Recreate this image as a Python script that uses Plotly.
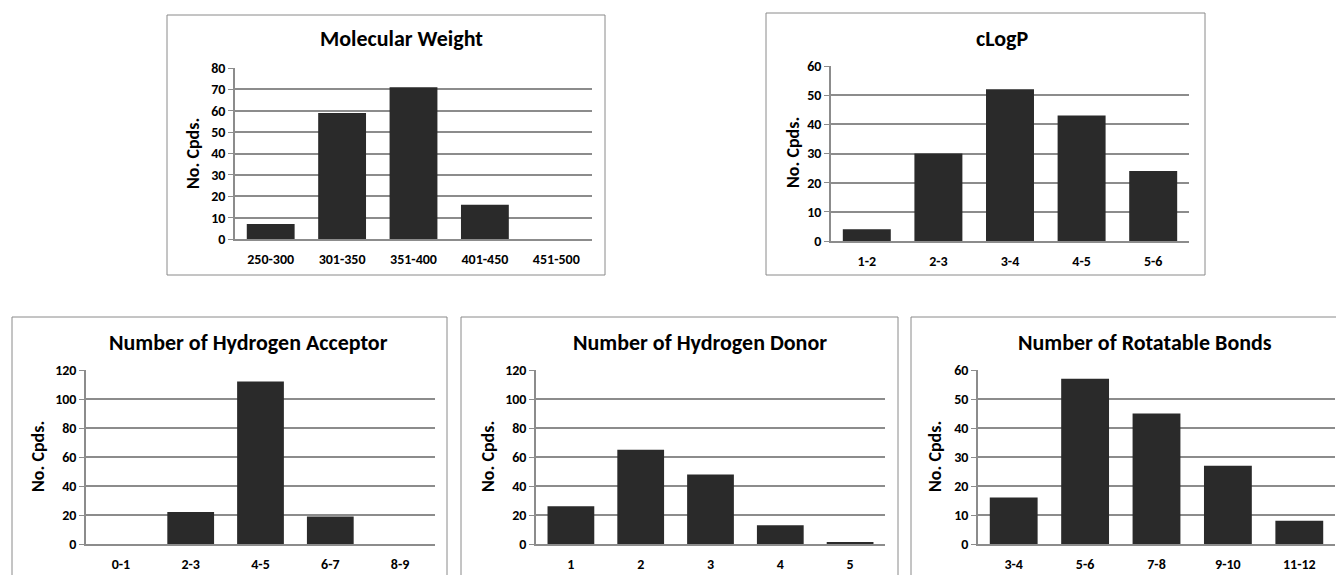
import plotly.graph_objects as go

W, H = 1336, 575

# ---- data ----
mw_cats = ["250-300", "301-350", "351-400", "401-450", "451-500"]
mw_vals = [7, 59, 71, 16, 0]

clogp_cats = ["1-2", "2-3", "3-4", "4-5", "5-6"]
clogp_vals = [4, 30, 52, 43, 24]

hba_cats = ["0-1", "2-3", "4-5", "6-7", "8-9"]
hba_vals = [0, 22, 112, 19, 0]

hbd_cats = ["1", "2", "3", "4", "5"]
hbd_vals = [26, 65, 48, 13, 1]

rot_cats = ["3-4", "5-6", "7-8", "9-10", "11-12"]
rot_vals = [16, 57, 45, 27, 8]

titles = ["Molecular Weight", "cLogP", "Number of Hydrogen Acceptor",
          "Number of Hydrogen Donor", "Number of Rotatable Bonds"]
y_title = "No. Cpds."

# ---- layout geometry (pixels) ----
panels = [
    dict(cats=mw_cats, vals=mw_vals, ymax=80, dtick=10,
         px=(235, 592), py=(239, 68), box=(167, 15, 605, 275),
         title=(401, 39), ytitle=(193, 153)),
    dict(cats=clogp_cats, vals=clogp_vals, ymax=60, dtick=10,
         px=(831, 1189), py=(241, 66), box=(766, 13, 1205, 275),
         title=(1002, 38), ytitle=(793, 153)),
    dict(cats=hba_cats, vals=hba_vals, ymax=120, dtick=20,
         px=(86, 435), py=(544, 370), box=(12, 317, 447, 620),
         title=(248, 342), ytitle=(38, 457)),
    dict(cats=hbd_cats, vals=hbd_vals, ymax=120, dtick=20,
         px=(536, 885), py=(544, 370), box=(461, 317, 898, 620),
         title=(700, 342), ytitle=(488, 457)),
    dict(cats=rot_cats, vals=rot_vals, ymax=60, dtick=10,
         px=(978, 1335), py=(544, 370), box=(911, 317, 1350, 620),
         title=(1145, 342), ytitle=(935, 457)),
]

FONT = "Calibri, Carlito, Lato, 'Open Sans', sans-serif"
GRID = "#8c8c8c"

fig = go.Figure()
shapes, annotations = [], []

def fx(p):
    return p / W

def fy(p):
    return 1 - p / H

for i, (p, t) in enumerate(zip(panels, titles), start=1):
    xa = "x" if i == 1 else f"x{i}"
    ya = "y" if i == 1 else f"y{i}"
    fig.add_trace(go.Bar(
        x=p["cats"], y=p["vals"], xaxis=xa, yaxis=ya,
        marker=dict(color="#2a2a2a", line=dict(width=0)),
        showlegend=False, hoverinfo="x+y",
    ))
    xkey = "xaxis" if i == 1 else f"xaxis{i}"
    ykey = "yaxis" if i == 1 else f"yaxis{i}"
    fig.layout[xkey] = dict(
        type="category",
        domain=[fx(p["px"][0]), fx(p["px"][1])], anchor=ya,
        showline=True, linecolor=GRID, linewidth=2, showgrid=False,
        ticks="", tickangle=0, automargin=False,
        tickfont=dict(family=FONT, size=14, color="black", weight="bold"),
        ticklabelstandoff=6, fixedrange=True,
    )
    fig.layout[ykey] = dict(
        domain=[fy(p["py"][0]), fy(p["py"][1])], anchor=xa,
        range=[0, p["ymax"]], dtick=p["dtick"], tick0=0, automargin=False,
        showline=True, linecolor=GRID, linewidth=1.5,
        showgrid=True, gridcolor=GRID, gridwidth=2, zeroline=False,
        ticks="outside", ticklen=5, tickcolor=GRID, tickwidth=1,
        tickfont=dict(family=FONT, size=14, color="black", weight="bold"),
        fixedrange=True,
    )
    x0, y0, x1, y1 = p["box"]
    shapes.append(dict(type="rect", xref="paper", yref="paper",
                       x0=fx(x0), x1=fx(x1), y0=fy(y1), y1=fy(y0),
                       line=dict(color="#8a8a8a", width=1), fillcolor="rgba(0,0,0,0)",
                       layer="below"))
    annotations.append(dict(text=t, xref="paper", yref="paper",
                            x=fx(p["title"][0]), y=fy(p["title"][1]),
                            xanchor="center", yanchor="middle", showarrow=False,
                            font=dict(family=FONT, size=22, color="black", weight="bold")))
    annotations.append(dict(text=y_title, xref="paper", yref="paper",
                            x=fx(p["ytitle"][0]), y=fy(p["ytitle"][1]),
                            xanchor="center", yanchor="middle", showarrow=False,
                            textangle=-90,
                            font=dict(family=FONT, size=18, color="black", weight="bold")))

fig.update_layout(
    width=W, height=H, margin=dict(l=0, r=0, t=0, b=0, autoexpand=False),
    paper_bgcolor="white", plot_bgcolor="white",
    bargap=0.33, shapes=shapes, annotations=annotations,
    showlegend=False,
)

fig.write_html("out.html", config={"displayModeBar": False},
               post_script="document.body.style.margin='0px';document.body.style.overflow='hidden';")
